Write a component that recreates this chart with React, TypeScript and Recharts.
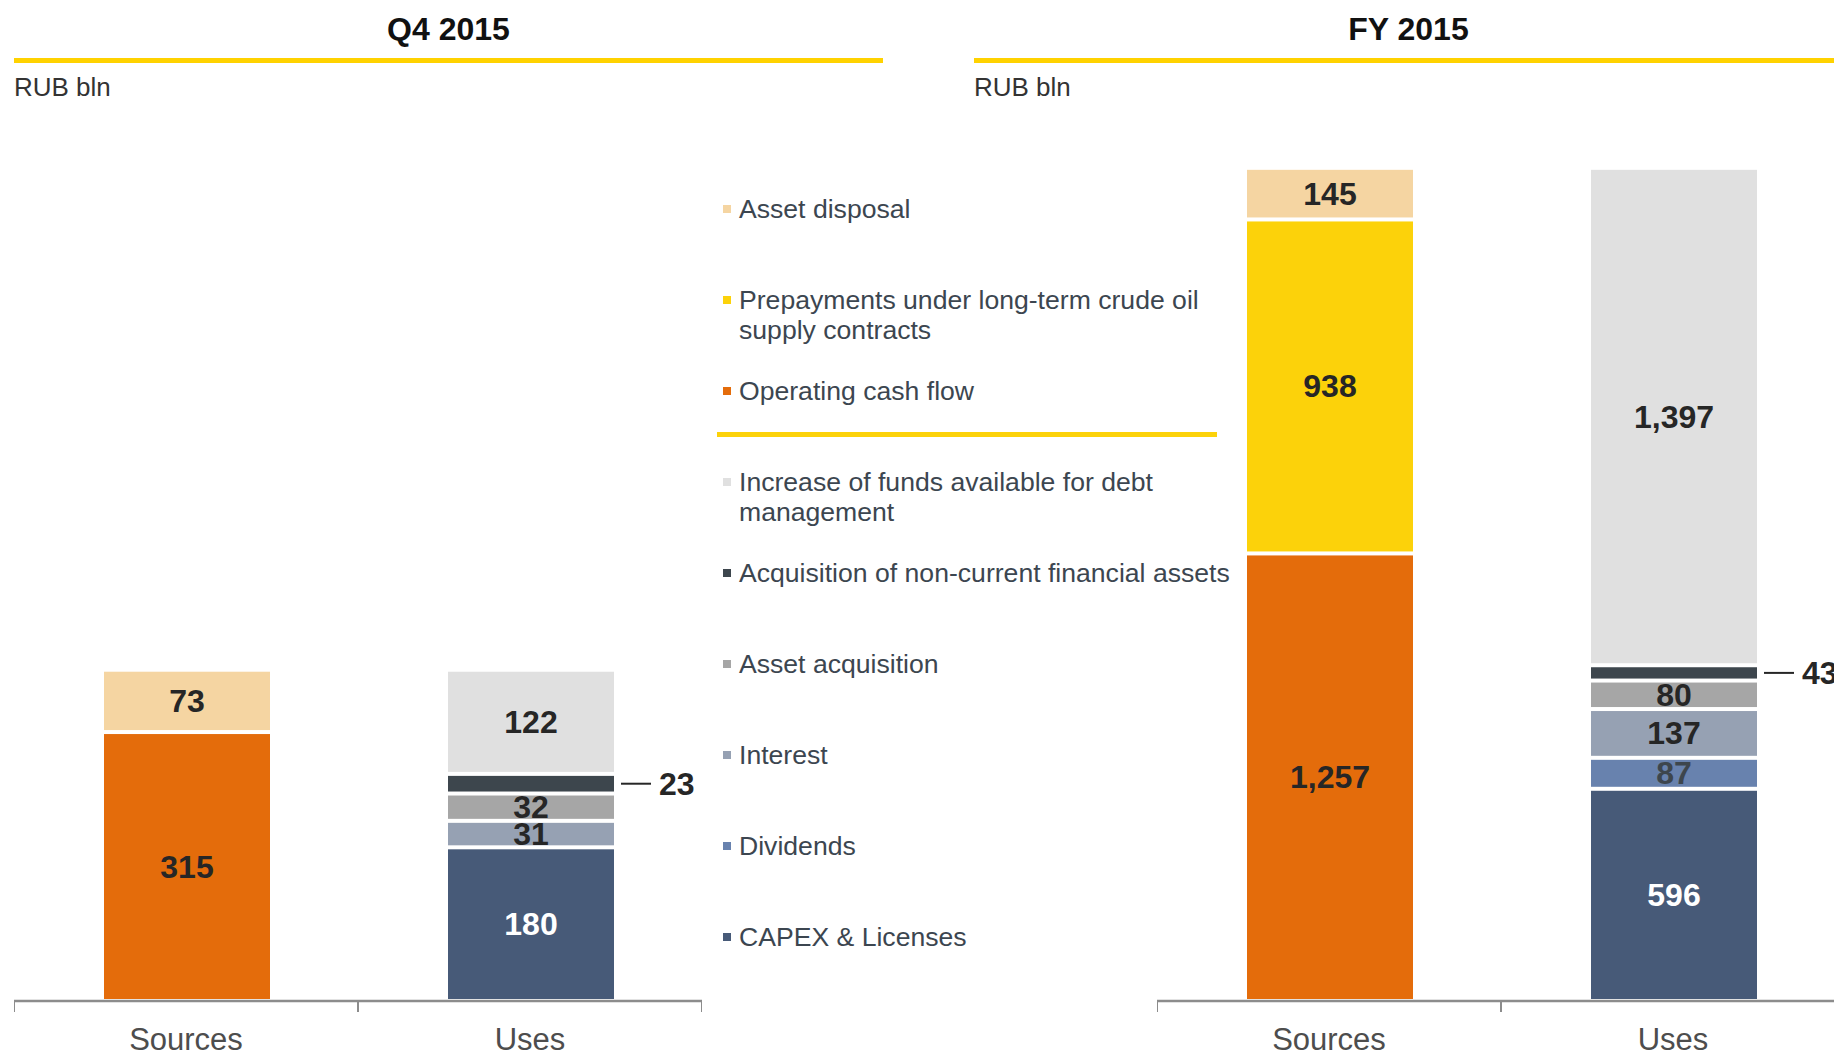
import { BarChart, Bar, XAxis, YAxis, LabelList } from 'recharts';

const categories = ['Sources', 'Uses'];

const seriesKeys = ['ocf', 'prepay', 'disposal', 'capex', 'dividends', 'interest', 'assetAcq', 'finAssets', 'funds'];
const seriesNames = [
  'Operating cash flow',
  'Prepayments under long-term crude oil supply contracts',
  'Asset disposal',
  'CAPEX & Licenses',
  'Dividends',
  'Interest',
  'Asset acquisition',
  'Acquisition of non-current financial assets',
  'Increase of funds available for debt management',
];
const seriesColors = ['#E46C0B', '#FCD20A', '#F5D5A2', '#475A78', '#6882AE', '#96A1B3', '#A6A6A6', '#3D464D', '#E0E0E0'];
const labelColors = ['#262626', '#262626', '#262626', '#FFFFFF', '#3D464D', '#262626', '#262626', '#262626', '#262626'];

// sources: ocf, prepay, disposal
const q4Sources = [315, 0, 73];
const fySources = [1257, 938, 145];
// uses: capex, dividends, interest, assetAcq, finAssets, funds
const q4Uses = [180, 0, 31, 32, 23, 122];
const fyUses = [596, 87, 137, 80, 43, 1397];

// legend order top -> bottom
const legendOrder = ['disposal', 'prepay', 'ocf', 'funds', 'finAssets', 'assetAcq', 'interest', 'dividends', 'capex'];

const buildRows = (sources: number[], uses: number[]) => {
  const src: Record<string, any> = { cat: categories[0] };
  const use: Record<string, any> = { cat: categories[1] };
  seriesKeys.forEach((k, i) => {
    src[k] = i < 3 ? sources[i] : 0;
    use[k] = i < 3 ? 0 : uses[i - 3];
  });
  return [src, use];
};

const q4Data = buildRows(q4Sources, q4Uses);
const fyData = buildRows(fySources, fyUses);

const FONT = '"Liberation Sans", Arial, sans-serif';
const PLOT_W = 688;
const BAND = PLOT_W / categories.length;

const fmt = (v: number) => v.toLocaleString('en-US');

const GapBar = (props: any) => {
  const { x, y, width, height, fill } = props;
  if (!height || height <= 0) return null;
  return <rect x={x + 1} y={y + 2} width={width} height={Math.max(height - 4, 0)} fill={fill} />;
};

const box = (p: any) => {
  const vb = p.viewBox || {};
  return {
    x: p.x ?? vb.x,
    y: p.y ?? vb.y,
    width: p.width ?? vb.width,
    height: p.height ?? vb.height,
  };
};

const centerLabel = (color: string) => (p: any) => {
  if (!p.value) return null;
  const { x, y, width, height } = box(p);
  return (
    <text
      x={x + 1 + width / 2}
      y={y + height / 2}
      textAnchor="middle"
      dominantBaseline="central"
      fill={color}
      fontSize={32}
      fontWeight="bold"
      fontFamily={FONT}
    >
      {fmt(p.value)}
    </text>
  );
};

const calloutLabel = (p: any) => {
  if (!p.value) return null;
  const { x, y, width, height } = box(p);
  const cy = y + height / 2;
  const x0 = x + width;
  return (
    <g>
      <line x1={x0 + 8} x2={x0 + 38} y1={cy} y2={cy} stroke="#262626" strokeWidth={2} />
      <text x={x0 + 46} y={cy} dominantBaseline="central" fill="#262626" fontSize={32} fontWeight="bold" fontFamily={FONT}>
        {fmt(p.value)}
      </text>
    </g>
  );
};

const CategoryTick = (p: any) => {
  const { x, y, payload, index } = p;
  const last = index === categories.length - 1;
  return (
    <g>
      <line x1={x - BAND / 2} x2={x - BAND / 2} y1={y} y2={y + 11} stroke="#8C8C8C" strokeWidth={2} />
      {last && <line x1={x + BAND / 2} x2={x + BAND / 2} y1={y} y2={y + 11} stroke="#8C8C8C" strokeWidth={2} />}
      <text x={x} y={y + 49} textAnchor="middle" fill="#4D4D4D" fontSize={31} fontFamily={FONT}>
        {payload.value}
      </text>
    </g>
  );
};

function StackChart({ data, max }: { data: any[]; max: number }) {
  return (
    <BarChart width={PLOT_W} height={896} data={data} margin={{ top: 0, right: 0, bottom: 0, left: 0 }} barSize={166}>
      <XAxis
        dataKey="cat"
        height={55}
        axisLine={{ stroke: '#8C8C8C', strokeWidth: 2.5 }}
        tickLine={false}
        tickSize={0}
        tickMargin={0}
        tick={<CategoryTick />}
        interval={0}
      />
      <YAxis hide domain={[0, max]} />
      {seriesKeys.map((k, i) => (
        <Bar key={k} dataKey={k} stackId="s" fill={seriesColors[i]} shape={GapBar} isAnimationActive={false}>
          <LabelList dataKey={k} content={k === 'finAssets' ? calloutLabel : centerLabel(labelColors[i])} />
        </Bar>
      ))}
    </BarChart>
  );
}

function Header({ left, title }: { left: number; title: string }) {
  return (
    <>
      <div
        style={{
          position: 'absolute', left, top: 13, width: 869, textAlign: 'center',
          fontSize: 32, lineHeight: '32px', fontWeight: 'bold', color: '#111',
        }}
      >
        {title}
      </div>
      <div style={{ position: 'absolute', left, top: 58, width: 869, height: 5, background: '#FFD200' }} />
      <div style={{ position: 'absolute', left, top: 74, fontSize: 26, lineHeight: '26px', color: '#333' }}>RUB bln</div>
    </>
  );
}

export default function App() {
  return (
    <div
      style={{
        position: 'fixed', left: 0, top: 0, width: 1834, height: 1056, overflow: 'hidden',
        background: '#fff', fontFamily: FONT,
      }}
    >
      <Header left={14} title="Q4 2015" />
      <Header left={974} title="FY 2015" />

      <div style={{ position: 'absolute', left: 14, top: 160 }}>
        <StackChart data={q4Data} max={985} />
      </div>
      <div style={{ position: 'absolute', left: 1157, top: 160 }}>
        <StackChart data={fyData} max={2362} />
      </div>

      {legendOrder.map((k, i) => {
        const idx = seriesKeys.indexOf(k);
        const center = i < 3 ? 209 + i * 91 : 482 + (i - 3) * 91;
        return (
          <div key={k} style={{ position: 'absolute', left: 723, top: center - 15 }}>
            <div style={{ position: 'absolute', left: 0, top: 11, width: 8, height: 8, background: seriesColors[idx] }} />
            <div style={{ position: 'absolute', left: 16, top: 0, width: 500, fontSize: 26.6, lineHeight: '30px', color: '#3C4650' }}>
              {seriesNames[idx]}
            </div>
          </div>
        );
      })}
      <div style={{ position: 'absolute', left: 717, top: 432, width: 500, height: 5, background: '#FCD20A' }} />
    </div>
  );
}
